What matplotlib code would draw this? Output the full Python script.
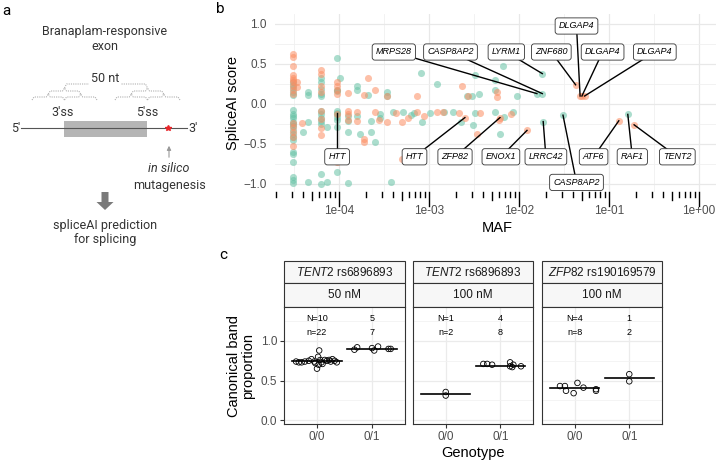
import numpy as np
import matplotlib
matplotlib.use("Agg")
import matplotlib.pyplot as plt
from matplotlib.patches import Rectangle, FancyArrow
from matplotlib.ticker import FixedLocator

plt.rcParams['font.family'] = ['Liberation Sans', 'DejaVu Sans']
plt.rcParams['mathtext.fontset'] = 'custom'
plt.rcParams['mathtext.rm'] = 'Liberation Sans'
plt.rcParams['mathtext.it'] = 'Liberation Sans:italic'

# ---------------- panel b data: log10(MAF) and SpliceAI score ----------------
orange_logmaf = [-4.51] * 15 + [-4.47, -4.47, -4.41] + [-4.2] * 8 + [-4.02] * 6 + [-3.9] * 4 + \
    [-3.8, -3.8, -3.72, -3.72, -3.72, -3.68, -3.6, -3.6, -3.55, -3.46, -3.46, -3.36, -3.3, -3.3,
     -3.23, -3.13, -3.13, -3.05, -2.91, -2.84, -2.71, -2.66, -2.63, -2.6, -2.57, -2.47, -2.43,
     -2.24, -2.24, -2.22, -2.21, -2.09, -1.91, -1.37, -1.32, -1.30, -1.27, -0.89, -0.72]
orange_score = [0.62, 0.59, 0.47, 0.36, 0.33, 0.30, 0.27, 0.22, 0.17, 0.13, -0.24, -0.29, -0.35, -0.41, -0.53,
                0.28, 0.21, -0.24,
                0.43, 0.38, 0.22, 0.15, -0.09, -0.19, -0.30, -0.39,
                0.28, 0.22, 0.18, 0.13, -0.12, -0.72,
                0.14, -0.09, -0.13, -0.20,
                -0.10, -0.21, 0.11, -0.44, -0.47, 0.32, 0.18, -0.10, -0.20, -0.22, 0.10, -0.11, -0.22, -0.69,
                -0.18, -0.10, 0.10, -0.15, -0.10, -0.10, -0.69, -0.11, 0.23, -0.17, 0.10, -0.38, -0.11,
                0.15, 0.09, -0.20, -0.17, -0.13, -0.33, 0.24, 0.10, 0.10, 0.10, -0.21, -0.26]

teal_logmaf = [-4.51] * 22 + [-4.34] * 4 + [-4.4] + [-4.2] * 12 + [-4.13] * 2 + [-4.02] * 10 + [-3.99] + \
    [-3.9] * 4 + [-3.8, -3.8, -3.8, -3.76, -3.68, -3.64, -3.64, -3.6, -3.54, -3.54, -3.46, -3.46, -3.42,
                  -3.4, -3.29, -3.2, -3.16, -3.09, -3.08, -2.99, -2.91, -2.83, -2.73, -2.64, -2.58, -2.52,
                  -2.51, -2.49, -2.49, -2.44, -2.27, -2.27, -2.27, -2.21, -2.18, -2.16, -2.06, -2.02,
                  -1.80, -1.74, -1.74, -1.73, -1.51, -0.79]
teal_score = [0.28, 0.24, 0.20, 0.15, 0.11, -0.08, -0.12, -0.15, -0.18, -0.22, -0.25, -0.28, -0.33, -0.37,
              -0.41, -0.45, -0.60, -0.63, -0.72, -0.91, -0.95, -0.99,
              0.15, 0.11, -0.23, -0.98, -0.35,
              0.33, 0.28, 0.19, 0.12, 0.10, -0.09, -0.13, -0.17, -0.21, -0.25, -0.87, -1.0,
              -0.29, -0.97,
              0.58, 0.18, 0.16, -0.11, -0.09, -0.13, -0.16, -0.20, -0.29, -0.85, 0.33,
              -0.15, -0.21, -0.35, -0.99,
              0.23, 0.17, -0.15, -0.37, 0.11, -0.21, -0.35, -0.48, -0.13, -0.18, 0.15, 0.10, -0.98,
              -0.10, -0.10, -0.14, -0.11, 0.39, -0.22, -0.11, 0.25, -0.10, -0.10, -0.22, 0.10, 0.10,
              -0.26, 0.36, -0.11, 0.12, 0.30, 0.17, -0.10, -0.37, 0.48, -0.16, -0.10, 0.10,
              0.13, 0.13, 0.38, -0.22, -0.14, -0.13]

# labelled variants: gene, point (log MAF, score), label position (log MAF, score)
lab_gene = ["HTT", "HTT", "ZFP82", "ENOX1", "LRRC42", "CASP8AP2", "ATF6", "RAF1", "TENT2",
            "DLGAP4", "MRPS28", "CASP8AP2", "LYRM1", "ZNF680", "DLGAP4", "DLGAP4"]
lab_px = [-4.02, -2.6, -2.21, -1.91, -1.73, -1.51, -0.89, -0.79, -0.72,
          -1.32, -1.80, -1.74, -1.74, -1.37, -1.30, -1.27]
lab_py = [-0.11, -0.17, -0.17, -0.33, -0.22, -0.14, -0.21, -0.13, -0.26,
          0.10, 0.13, 0.13, 0.38, 0.24, 0.10, 0.10]
lab_lx = [-4.02, -3.16, -2.71, -2.2, -1.7, -1.36, -1.17, -0.74, -0.24,
          -1.36, -3.39, -2.76, -2.14, -1.64, -1.07, -0.49]
lab_ly = [-0.66, -0.66, -0.66, -0.66, -0.66, -0.98, -0.66, -0.66, -0.66,
          0.975, 0.65, 0.65, 0.65, 0.65, 0.65, 0.65]

# ---------------- panel c data ----------------
facet_gene = ["TENT2", "TENT2", "ZFP82"]
facet_snp = ["rs6896893", "rs6896893", "rs190169579"]
facet_conc = ["50 nM", "100 nM", "100 nM"]
genotypes = ["0/0", "0/1"]
prop_y = [
    [[0.74, 0.73, 0.73, 0.74, 0.75, 0.77, 0.74, 0.72, 0.65, 0.80, 0.70, 0.88, 0.76, 0.73, 0.71, 0.76,
      0.75, 0.76, 0.74, 0.77, 0.75, 0.73],
     [0.89, 0.92, 0.91, 0.88, 0.93, 0.90, 0.90]],
    [[0.355, 0.31],
     [0.71, 0.71, 0.70, 0.73, 0.68, 0.67, 0.70, 0.68]],
    [[0.43, 0.43, 0.37, 0.34, 0.47, 0.41, 0.39, 0.37],
     [0.58, 0.49]],
]
prop_dx = [
    [[-0.38, -0.33, -0.28, -0.22, -0.15, -0.1, -0.05, -0.03, 0.0, 0.02, 0.03, 0.04, 0.06, 0.08, 0.1,
      0.14, 0.18, 0.22, 0.25, 0.28, 0.32, 0.36],
     [-0.32, -0.27, 0.0, 0.04, 0.11, 0.3, 0.34]],
    [[0.0, 0.0],
     [-0.31, -0.24, -0.15, 0.18, 0.18, 0.22, 0.24, 0.38]],
    [[-0.27, -0.18, -0.16, -0.02, 0.05, 0.16, 0.39, 0.39],
     [0.0, 0.0]],
]
prop_median = [[0.745, 0.90], [0.33, 0.69], [0.405, 0.535]]
n_ind = [[10, 5], [1, 4], [4, 1]]
n_rep = [[22, 7], [2, 8], [8, 2]]

W, H = 720, 462
fig = plt.figure(figsize=(W / 100, H / 100), dpi=100)


def box(l, t, r, b):
    return [l / W, 1 - b / H, (r - l) / W, (b - t) / H]


# overlay in pixel coordinates for panel a and decorations
ov = fig.add_axes([0, 0, 1, 1])
ov.set_xlim(0, W)
ov.set_ylim(H, 0)
ov.axis('off')

rob = ['Roboto', 'DejaVu Sans']
fa = 9
ov.text(6, 11, "a", fontsize=11, ha='center', va='center', family=rob)
ov.text(220, 9, "b", fontsize=11, ha='center', va='center', family=rob)
ov.text(223, 255, "c", fontsize=11, ha='center', va='center', family=rob)
ov.text(105, 32, "Branaplam-responsive", fontsize=fa, ha='center', va='center', family=rob, color='#333333')
ov.text(105, 47, "exon", fontsize=fa, ha='center', va='center', family=rob, color='#333333')


def brace(x0, x1, yb, yt):
    xm = (x0 + x1) / 2
    ym = (yb + yt) / 2
    xs = [x0, x0 + 2, xm - 2, xm, xm + 2, x1 - 2, x1]
    ys = [yb, ym, ym, yt, ym, ym, yb]
    ov.plot(xs, ys, ls=(0, (1, 1)), color='#b0b0b0', lw=0.8)


for a0, a1 in [(32, 97), (115, 180)]:
    q = (a1 - a0) / 2
    brace(a0, a0 + q, 100, 94)
    brace(a0 + q, a1, 100, 94)
    brace(a0 + q / 2, a1 - q / 2, 94, 88)
brace(64.5, 147.5, 88, 80)
ov.text(105, 78, "50 nt", fontsize=fa, ha='center', va='center', family=rob, color='#333333',
        bbox=dict(fc='white', ec='none', pad=1))
ov.text(63, 113, "3'ss", fontsize=fa, ha='center', va='center', family=rob, color='#333333')
ov.text(147, 113, "5'ss", fontsize=fa, ha='center', va='center', family=rob, color='#333333')
ov.plot([21, 187], [128, 128], color='#555555', lw=0.8)
ov.text(16, 128, "5'", fontsize=fa, ha='center', va='center', family=rob, color='#333333')
ov.text(193, 128, "3'", fontsize=fa, ha='center', va='center', family=rob, color='#333333')
ov.add_patch(Rectangle((64, 121), 83, 16, fc='#b5b5b5', ec='none'))
ov.plot([168], [128], marker='*', ms=4, color='#e8262a', mec='#e8262a')
ov.annotate("", xy=(169, 143), xytext=(169, 160),
            arrowprops=dict(arrowstyle='-|>', color='#999999', lw=0.8, mutation_scale=6))
ov.text(169, 169, "in silico", fontsize=fa, ha='center', va='center', family=rob, style='italic',
        color='#333333')
ov.text(169, 185, "mutagenesis", fontsize=fa, ha='center', va='center', family=rob, color='#333333')
ov.add_patch(FancyArrow(105, 192, 0, 18, width=7, head_width=17, head_length=8,
                        length_includes_head=True, color='#7a7a7a', ec='none'))
ov.text(105, 225, "spliceAI prediction", fontsize=fa, ha='center', va='center', family=rob,
        color='#333333')
ov.text(105, 240, "for splicing", fontsize=fa, ha='center', va='center', family=rob, color='#333333')

# ---------------- panel b ----------------
grey = '#4d4d4d'
axb = fig.add_axes(box(275, 14, 716, 192))
axb.set_xscale('log')
axb.set_xlim(10 ** -4.71, 10 ** 0.19)
axb.set_ylim(-1.1, 1.125)
for sp in axb.spines.values():
    sp.set_visible(False)
axb.set_xticks([1e-4, 1e-3, 1e-2, 1e-1, 1e0])
axb.set_xticklabels(["1e-04", "1e-03", "1e-02", "1e-01", "1e+00"])
axb.xaxis.set_minor_locator(FixedLocator([10 ** (k + 0.5) for k in range(-5, 1)]))
axb.set_yticks([-1.0, -0.5, 0.0, 0.5, 1.0])
axb.yaxis.set_minor_locator(FixedLocator([-0.75, -0.25, 0.25, 0.75]))
axb.tick_params(which='both', length=0, labelsize=8.5, labelcolor=grey)
axb.tick_params(axis='x', pad=9)
axb.tick_params(axis='y', pad=6)
axb.xaxis.set_minor_formatter(plt.NullFormatter())
axb.grid(which='major', color='#e8e8e8', lw=0.9)
axb.grid(which='minor', color='#f0f0f0', lw=0.6)
axb.set_axisbelow(True)

axb.scatter(10 ** np.array(teal_logmaf), teal_score, s=26, color='#66C2A5', alpha=0.55, lw=0, zorder=2)
axb.scatter(10 ** np.array(orange_logmaf), orange_score, s=26, color='#FC8D62', alpha=0.55, lw=0, zorder=2)

for g, px, py, lx, ly in zip(lab_gene, lab_px, lab_py, lab_lx, lab_ly):
    axb.plot([10 ** lx, 10 ** px], [ly, py], color='black', lw=1, zorder=3)
    axb.text(10 ** lx, ly, g, fontsize=6.5, style='italic', ha='center', va='center', zorder=4,
             bbox=dict(boxstyle='round,pad=0.4,rounding_size=0.3', fc='white', ec='#333333', lw=0.6))

# log ticks below the panel
for d in range(-5, 1):
    for m in range(1, 10):
        v = m * 10.0 ** d
        if not (10 ** -4.71 <= v <= 10 ** 0.19):
            continue
        ln = 14 if m == 1 else (8 if m == 5 else 5)
        axb.plot([v, v], [0, -ln / 178], transform=axb.get_xaxis_transform(), color='black',
                 lw=1, clip_on=False)

fig.text(497 / W, 1 - 228 / H, "MAF", fontsize=10.5, ha='center', va='center')
fig.text(233 / W, 1 - 103 / H, "SpliceAI score", fontsize=10.5, ha='center', va='center', rotation=90)

# ---------------- panel c ----------------
panel_x = [(284, 405), (413, 533), (542, 662)]
for i, (l, r) in enumerate(panel_x):
    ax = fig.add_axes(box(l, 307, r, 424))
    ax.set_xlim(0.4, 2.6)
    ax.set_ylim(-0.05, 1.43)
    ax.set_xticks([1, 2])
    ax.set_xticklabels(genotypes)
    ax.set_yticks([0.0, 0.5, 1.0])
    ax.yaxis.set_minor_locator(FixedLocator([0.25, 0.75, 1.25]))
    ax.grid(which='major', color='#ebebeb', lw=0.9)
    ax.grid(which='minor', axis='y', color='#f2f2f2', lw=0.6)
    ax.set_axisbelow(True)
    for sp in ax.spines.values():
        sp.set_color('#333333')
        sp.set_linewidth(0.8)
    ax.tick_params(which='major', length=3, color='#333333', labelsize=8.5, labelcolor=grey, pad=2)
    ax.tick_params(which='minor', length=0)
    if i > 0:
        ax.tick_params(axis='y', labelleft=False, length=0)
    for j in range(2):
        xs = (j + 1) + np.array(prop_dx[i][j])
        ax.scatter(xs, prop_y[i][j], s=16, facecolor='none', edgecolor='black', lw=0.6, zorder=3)
        ax.plot([j + 1 - 0.45, j + 1 + 0.45], [prop_median[i][j]] * 2, color='black', lw=1.2, zorder=4)
        top = f"N={n_ind[i][j]}" if j == 0 else f"{n_ind[i][j]}"
        bot = f"n={n_rep[i][j]}" if j == 0 else f"{n_rep[i][j]}"
        ax.text(j + 1, 1.29, top, fontsize=6.5, ha='center', va='center')
        ax.text(j + 1, 1.11, bot, fontsize=6.5, ha='center', va='center')
    # strips
    ov.add_patch(Rectangle((l, 261), r - l, 22, fc='#f7f7f7', ec='#333333', lw=0.8))
    ov.add_patch(Rectangle((l, 283), r - l, 24, fc='#f7f7f7', ec='#333333', lw=0.8))
    ov.text((l + r) / 2, 272, r"$\it{" + facet_gene[i] + "}$ " + facet_snp[i], fontsize=8.5,
            ha='center', va='center', color='#1a1a1a')
    ov.text((l + r) / 2, 295, facet_conc[i], fontsize=8.5, ha='center', va='center', color='#1a1a1a')

fig.text(241 / W, 1 - 366 / H, "Canonical band\nproportion", fontsize=10.5, ha='center', va='center',
         rotation=90, linespacing=0.95)
fig.text(473 / W, 1 - 453 / H, "Genotype", fontsize=10.5, ha='center', va='center')

fig.savefig("out.png", dpi=100)
